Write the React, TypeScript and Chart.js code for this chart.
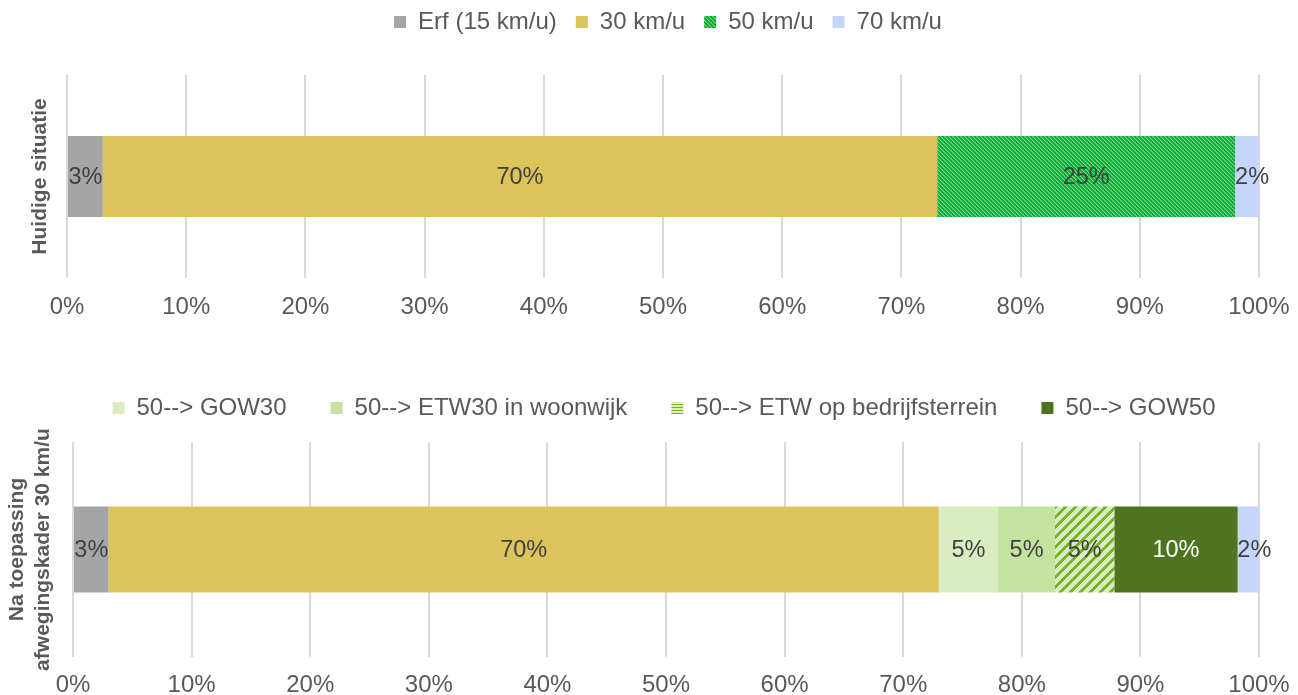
import React, { useEffect, useRef } from 'react';
import { Chart, registerables, layouts } from 'chart.js';

Chart.register(...registerables);

const FONT = '"Liberation Sans", Arial, sans-serif';

// ---------- data ----------
const topCategory = ['Huidige situatie'];
const bottomCategory = [['Na toepassing', 'afwegingskader 30 km/u']];

const topSeriesNames = ['Erf (15 km/u)', '30 km/u', '50 km/u', '70 km/u'];
const topErf = [3];
const top30 = [70];
const top50 = [25];
const top70 = [2];

const bottomSeriesNames = [
  'Erf (15 km/u)',
  '30 km/u',
  '50--> GOW30',
  '50--> ETW30 in woonwijk',
  '50--> ETW op bedrijfsterrein',
  '50--> GOW50',
  '70 km/u',
];
const bottomErf = [3];
const bottom30 = [70];
const bottomGow30 = [5];
const bottomEtw30 = [4.8];
const bottomEtwBedrijf = [5];
const bottomGow50 = [10.4];
const bottom70 = [1.8];
const bottomLegendNames = ['50--> GOW30', '50--> ETW30 in woonwijk', '50--> ETW op bedrijfsterrein', '50--> GOW50'];

const xMin = 0;
const xMax = 100;
const xStep = 10;

// ---------- patterns ----------
function makeDiagPattern(base: string, stripes: string[], size: number, dir: '/' | '\\') {
  const c = document.createElement('canvas');
  c.width = size;
  c.height = size;
  const g = c.getContext('2d')!;
  g.fillStyle = base;
  g.fillRect(0, 0, size, size);
  for (let y = 0; y < size; y++) {
    for (let x = 0; x < size; x++) {
      const k = dir === '/' ? (x + y) % size : (((x - y) % size) + size) % size;
      if (k < stripes.length) {
        g.fillStyle = stripes[k];
        g.fillRect(x, y, 1, 1);
      }
    }
  }
  return g.createPattern(c, 'repeat')!;
}

function makeHorizPattern(base: string, stripe: string, period: number) {
  const c = document.createElement('canvas');
  c.width = period;
  c.height = period;
  const g = c.getContext('2d')!;
  g.fillStyle = base;
  g.fillRect(0, 0, period, period);
  g.fillStyle = stripe;
  g.fillRect(0, 0, period, 1);
  return g.createPattern(c, 'repeat')!;
}

// ---------- plugins ----------
const barLabelPlugin = {
  id: 'barLabels',
  afterDatasetsDraw(chart: any) {
    const ctx = chart.ctx;
    ctx.save();
    ctx.font = `23.5px ${FONT}`;
    ctx.textAlign = 'center';
    ctx.textBaseline = 'middle';
    chart.data.datasets.forEach((ds: any, i: number) => {
      const meta = chart.getDatasetMeta(i);
      if (meta.hidden) return;
      meta.data.forEach((bar: any, j: number) => {
        const v = ds.data[j];
        const p = bar.getProps(['x', 'y', 'base'], true);
        const cx = (p.x + p.base) / 2 + (ds.labelShift || 0);
        ctx.fillStyle = ds.labelColor || '#404040';
        ctx.fillText(`${Math.round(v)}%`, cx, p.y + 1);
      });
    });
    ctx.restore();
  },
};

function spacerPlugin(h: number) {
  return {
    id: 'spacer',
    beforeInit(chart: any) {
      const box: any = {
        position: 'top',
        weight: 500,
        fullSize: false,
        options: {},
        left: 0,
        top: 0,
        right: 0,
        bottom: 0,
        width: 0,
        height: h,
        isHorizontal() {
          return true;
        },
        update(maxWidth: number) {
          this.width = maxWidth;
          this.height = h;
        },
        getPadding() {
          return { top: 0, left: 0, right: 0, bottom: 0 };
        },
        draw() {},
      };
      layouts.addBox(chart, box);
    },
  };
}

function legendShiftPlugin(dx: number) {
  return {
    id: 'legendShift',
    afterLayout(chart: any) {
      const l = chart.legend;
      if (l) {
        l.left += dx;
        l.right += dx;
      }
    },
  };
}

function makeOptions(cfg: {
  yTitle: any;
  yWidth: number;
  titlePad: number;
  tickPad: number;
  legendPad: number;
  topPad: number;
  legendFilter?: (name: string) => boolean;
  legendOverrides?: Record<string, any>;
}) {
  return {
    indexAxis: 'y' as const,
    animation: false as const,
    responsive: true,
    maintainAspectRatio: false,
    layout: { padding: { left: 0, right: 39, top: cfg.topPad, bottom: 0 } },
    plugins: {
      tooltip: { enabled: false },
      legend: {
        display: true,
        position: 'top' as const,
        labels: {
          color: '#595959',
          font: { family: FONT, size: 24 },
          boxWidth: 12,
          boxHeight: 12,
          padding: cfg.legendPad,
          filter: (item: any) => (cfg.legendFilter ? cfg.legendFilter(item.text) : true),
          generateLabels: (chart: any) => {
            const items = Chart.defaults.plugins.legend.labels.generateLabels(chart);
            return items.map((it: any) => {
              const o = cfg.legendOverrides && cfg.legendOverrides[it.text];
              return { ...it, fillStyle: o || it.fillStyle, lineWidth: 0, strokeStyle: 'rgba(0,0,0,0)' };
            });
          },
        },
      },
    },
    scales: {
      x: {
        type: 'linear' as const,
        stacked: true,
        min: xMin,
        max: xMax,
        ticks: {
          stepSize: xStep,
          color: '#595959',
          font: { family: FONT, size: 24 },
          padding: cfg.tickPad,
          callback: (v: any) => `${v}%`,
        },
        grid: { color: '#D9D9D9', lineWidth: 2, drawTicks: false },
        border: { display: false },
        afterFit: (scale: any) => {
          scale.height = cfg.tickPad + 30;
          scale.paddingLeft = 0;
          scale.paddingRight = 0;
        },
      },
      y: {
        stacked: true,
        ticks: { display: false },
        grid: { display: false, drawTicks: false },
        border: { display: false },
        title: {
          display: true,
          text: cfg.yTitle,
          color: '#595959',
          font: { family: FONT, size: 21, weight: 'bold' as const },
          padding: { top: cfg.titlePad, bottom: 0 },
        },
        afterFit: (scale: any) => {
          scale.width = cfg.yWidth;
        },
      },
    },
  };
}

function ChartBox(props: { top: number; height: number; build: (canvas: HTMLCanvasElement) => Chart }) {
  const ref = useRef<HTMLCanvasElement | null>(null);
  useEffect(() => {
    if (!ref.current) return;
    const chart = props.build(ref.current);
    return () => chart.destroy();
  }, []);
  return (
    <div style={{ position: 'absolute', left: 0, top: props.top, width: 1298, height: props.height }}>
      <canvas ref={ref} />
    </div>
  );
}

const GREY = '#A5A5A5';
const YELLOW = '#DCC45B';
const BLUE = '#C5D6FA';

function barDataset(label: string, data: number[], bg: any, extra: any = {}) {
  return {
    label,
    data,
    backgroundColor: bg,
    borderWidth: 0,
    categoryPercentage: 1,
    barPercentage: 0.4,
    ...extra,
  };
}

function buildTop(canvas: HTMLCanvasElement) {
  const p50 = makeDiagPattern('#00AC4A', ['#82D666', '#36BC52'], 4, '\\');
  return new Chart(canvas, {
    type: 'bar',
    data: {
      labels: topCategory,
      datasets: [
        barDataset(topSeriesNames[0], topErf, GREY),
        barDataset(topSeriesNames[1], top30, YELLOW),
        barDataset(topSeriesNames[2], top50, p50),
        barDataset(topSeriesNames[3], top70, BLUE, { labelShift: 5 }),
      ],
    },
    options: makeOptions({
      yTitle: topCategory[0],
      yWidth: 67,
      titlePad: 28,
      tickPad: 15,
      legendPad: 19,
      topPad: -9,
    }) as any,
    plugins: [barLabelPlugin, spacerPlugin(31), legendShiftPlugin(38.5)],
  });
}

function buildBottom(canvas: HTMLCanvasElement) {
  const hatch = makeDiagPattern('#D9ECC2', ['#77B32B', '#77B32B', '#77B32B', '#77B32B'], 10, '/');
  const hatchLegend = makeHorizPattern('#D9ECC2', '#77B32B', 3);
  return new Chart(canvas, {
    type: 'bar',
    data: {
      labels: bottomCategory as any,
      datasets: [
        barDataset(bottomSeriesNames[0], bottomErf, GREY),
        barDataset(bottomSeriesNames[1], bottom30, YELLOW),
        barDataset(bottomSeriesNames[2], bottomGow30, '#DAEDC0'),
        barDataset(bottomSeriesNames[3], bottomEtw30, '#C5E3A0'),
        barDataset(bottomSeriesNames[4], bottomEtwBedrijf, hatch),
        barDataset(bottomSeriesNames[5], bottomGow50, '#4E741F', { labelColor: '#FFFFFF' }),
        barDataset(bottomSeriesNames[6], bottom70, BLUE, { labelShift: 6 }),
      ],
    },
    options: makeOptions({
      yTitle: bottomCategory[0],
      yWidth: 73,
      titlePad: 5,
      tickPad: 14,
      legendPad: 44,
      topPad: -28,
      legendFilter: (n) => bottomLegendNames.includes(n),
      legendOverrides: { '50--> ETW op bedrijfsterrein': hatchLegend },
    }) as any,
    plugins: [barLabelPlugin, spacerPlugin(12), legendShiftPlugin(34.5)],
  });
}

export default function App() {
  return (
    <div style={{ position: 'relative', width: 1298, height: 695, background: '#FFFFFF', fontFamily: FONT }}>
      <div style={{ position: 'fixed', left: 0, top: 0, width: 1298, height: 695, background: '#FFFFFF', overflow: 'hidden' }}>
        <ChartBox top={0} height={323} build={buildTop} />
        <ChartBox top={380} height={321} build={buildBottom} />
      </div>
    </div>
  );
}
